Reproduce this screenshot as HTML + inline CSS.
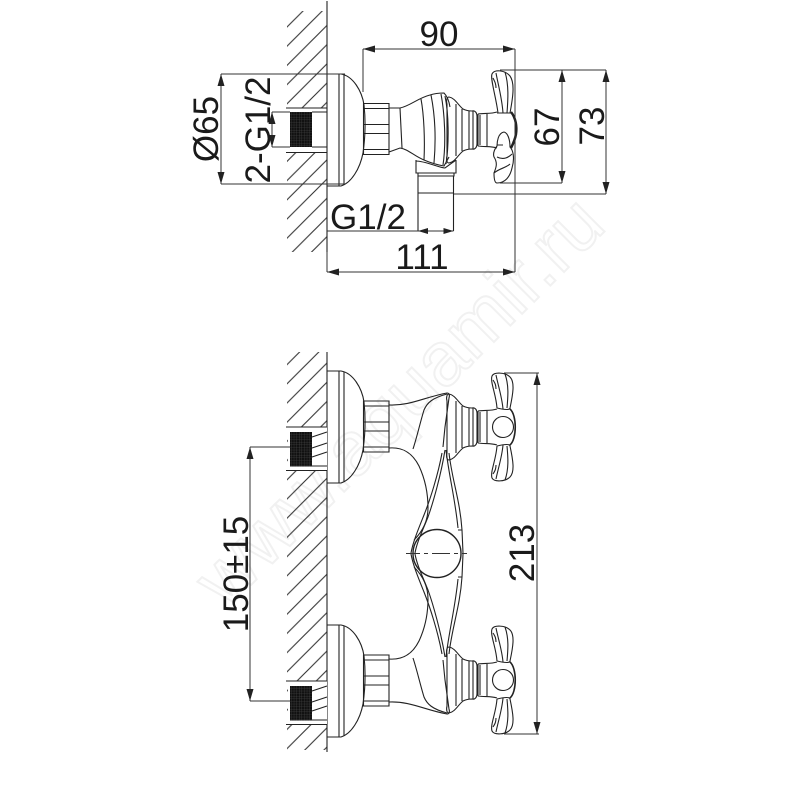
<!DOCTYPE html>
<html><head><meta charset="utf-8"><style>
html,body{margin:0;padding:0;background:#fff}
svg{display:block}
text{font-family:"Liberation Sans",sans-serif;font-size:35px;fill:#1a1a1a;text-anchor:middle}
.l{fill:none;stroke:#222;stroke-width:1.1}
.d{fill:none;stroke:#333;stroke-width:1}
.a{fill:#222;stroke:none}
</style></head><body>
<svg width="800" height="800" viewBox="0 0 800 800" xmlns="http://www.w3.org/2000/svg">
<defs>
<pattern id="h1" patternUnits="userSpaceOnUse" width="19.2" height="19.2" patternTransform="translate(6.8,0)"><path d="M-2,21.2L21.2,-2M-2,2L2,-2M17.2,21.2L21.2,17.2" stroke="#333" stroke-width="1.1" fill="none"/></pattern>
<pattern id="h2" patternUnits="userSpaceOnUse" width="19.2" height="19.2" patternTransform="translate(18,0)"><path d="M-2,21.2L21.2,-2M-2,2L2,-2M17.2,21.2L21.2,17.2" stroke="#333" stroke-width="1.1" fill="none"/></pattern>
<pattern id="g" patternUnits="userSpaceOnUse" width="2.6" height="2.6"><rect width="2.6" height="2.6" fill="#111"/><path d="M0,0H2.6M0,0V2.6" stroke="#555" stroke-width=".5"/></pattern>
<g id="ros" class="l">
 <path d="M327,371H341C353,373 362,388 364,402C366,420 365,436 363,450C360,466 351,480 341,483H327"/>
 <path d="M339,371V483M344,372V482"/>
</g>
<g id="blk">
 <rect x="288" y="427.500" width="39" height="43" fill="#fff"/>
 <path class="l" d="M286,427H327M286,470.500H327"/>
 <rect x="290" y="432" width="22" height="34.500" fill="url(#g)"/>
 <path class="l" d="M312,437L327,432M312,448L327,443M312,457L327,452M312,466H327"/>
</g>
<g id="nut" class="l">
 <path d="M363.500,401H389V452H363.500ZM363.500,406H389M363.500,422H389M363.500,431H389M363.500,447H389"/>
</g>
<g id="bell" class="l">
 <path d="M449,-33C455,-32 458,-25 463,-21C467,-19 470,-19 472,-19C475,-20 477,-17 477,-14V14C477,17 475,20 472,19C470,19 467,19 463,21C458,25 455,32 449,33C447,33 446,30 447,26V-26C446,-30 447,-33 449,-33Z"/>
 <path d="M456,-26V26M462,-21V21M469,-19V19M473,-19V19"/>
 <path d="M478,-16C485,-17 491,-16 497,-18M478,16C485,17 491,16 497,18M478,-16V16M480,-15V15M487,-16V16"/>
</g>
<g id="cross" class="l">
 <path d="M497,-19C496,-33 490,-45 492,-51C494,-55 505,-55 510,-50C515,-45 513,-33 510,-19"/>
 <path d="M503,-18C502,-30 498,-42 496,-52M505,-53C509,-42 508,-30 507,-19M493,-47C495,-44 496,-42 496,-38"/>
 <path d="M497,19C496,33 490,45 492,51C494,55 505,55 510,50C515,45 513,33 510,19"/>
 <path d="M503,18C502,30 498,42 496,52M505,53C509,42 508,30 507,19M493,47C495,44 496,42 496,38"/>
 <path d="M497,-19C505,-17 510,-17 510,-19M497,19C505,17 510,17 510,19"/>
 <circle cx="503" cy="0" r="10.500"/>
 <path d="M510,-18C517,-12 517,12 510,18" stroke-width="1.6"/>
</g>
<g id="body" class="l">
 <path d="M389,405C410,406 425,397 447,393C449,393 450,395 449,398L445,427L443,447"/>
 <path d="M447,394C432,398 427,403 424,410C420,423 417,437 413,449"/>
 <path d="M389,448C402,447 412,452 419,466C426,481 428,497 428,508C428,521 422,532 414,540"/>
 <path d="M442,453C438,475 430,500 424,515C418,530 413,542 411,553"/>
 <path d="M445,450C441,475 433,503 428,517C422,532 417,542 415,553"/>
 <path d="M449,453C452,480 460,500 462,530L463,553"/>
 <path d="M446,450C449,476 455,498 458,528M458,530H462"/>
</g>
</defs>

<g transform="translate(400,402) rotate(-45)">
 <text x="0" y="24" style="font-size:76px;fill:#fff;stroke:#f1f1f1;stroke-width:2">www.aquamir.ru</text>
</g>

<!-- TOP VIEW -->
<rect x="287" y="11" width="40" height="241" fill="url(#h1)"/>
<rect x="286" y="108" width="41" height="45" fill="#fff"/>
<path class="l" d="M327,1V252"/>
<path class="l" d="M286,108H327M286,152.500H327M312,112H327M312,147H327"/>
<rect x="290" y="112" width="22" height="35" fill="url(#g)"/>
<use href="#ros" y="-297"/>
<use href="#nut" y="-297.500"/>
<g class="l">
 <path d="M389,108L400,108C410,106 418,98 430,95C436,93 441,93 444,93C447,96 449,101 450,107"/>
 <path d="M389,152L400,148C408,149 414,156 424,160C431,163 438,165 444,166L449,157"/>
 <path d="M400,108L402,148M421,99C424,115 425,140 424,160M431,95C435,115 436,140 434,163M441,94C445,115 446,145 443,165M445,96C449,115 449,145 446,164"/>
 <path d="M416,160V173H456V160M416,161C425,161 440,168 445,168L456,160M418,173V176H454V173"/>
 <path d="M418,176V231M453.500,176V231M418,193H453.500"/>
</g>
<g transform="translate(0,130)"><use href="#bell"/>
 <g class="l">
  <path d="M498,-17C496,-33 490,-52 492,-56C494,-61 505,-60 510,-54C515,-47 513,-33 510,-17"/>
  <path d="M503,-17C502,-32 498,-46 496,-57M505,-58C509,-45 508,-30 507,-17M493,-52C495,-48 496,-46 496,-42"/>
  <path d="M497,-17H512M497,15H503"/>
  <path d="M511,-18C516,-12 517,-3 516,4C515,10 513,14 511,18" stroke-width="2.500"/>
  <path d="M504,2C498,3 497,12 497,16C494,20 493,24 494,27C498,33 496,38 494,43C494,50 495,53 497,53C505,53 510,47 512,38C515,28 513,20 510,17C510,10 508,3 504,2Z"/>
  <path d="M497,27C503,30 508,28 512,24M494,43C500,38 506,38 510,34"/>
 </g>
</g>
<g class="d">
 <path d="M363,49V92M515,49V272M221,74H345M221,184H345M272,112H290M272,147H290M327,231H453.500M327,252V272M327,272H515"/>
 <path d="M221,74V184M272,112V147M363,49H515M562,70V183M606,70V194"/>
 <path d="M500,70H606M500,183H562M454,194H606"/>
</g>
<g class="a">
 <path d="M221,74l-3.500,12h7zM221,184l-3.500,-12h7zM272,112l-3.500,12h7zM272,147l-3.500,-12h7z"/>
 <path d="M363,49l12,-3.500v7zM515,49l-12,-3.500v7zM327,272l12,-3.500v7zM515,272l-12,-3.500v7z"/>
 <path d="M418,231l10,-3v6zM453.500,231l-10,-3v6z"/>
 <path d="M562,70l-3.500,12h7zM562,183l-3.500,-12h7zM606,70l-3.500,12h7zM606,194l-3.500,-12h7z"/>
</g>
<text x="439" y="46">90</text>
<text x="422" y="269">111</text>
<text x="368" y="229">G1/2</text>
<text transform="translate(218,129) rotate(-90)">Ø65</text>
<text transform="translate(270,130) rotate(-90)">2-G1/2</text>
<text transform="translate(559,127) rotate(-90)">67</text>
<text transform="translate(604,126) rotate(-90)">73</text>

<!-- FRONT VIEW -->
<rect x="287" y="352" width="40" height="398" fill="url(#h2)"/>
<path class="l" d="M327,352V752"/>
<use href="#blk"/>
<use href="#blk" y="254"/>
<use href="#ros"/>
<use href="#ros" y="254"/>
<use href="#nut"/>
<use href="#nut" y="254"/>
<use href="#body"/>
<use href="#body" transform="matrix(1 0 0 -1 0 1107)"/>
<g transform="translate(0,427)"><use href="#bell"/><use href="#cross"/></g>
<g transform="translate(0,680)"><use href="#bell"/><use href="#cross"/></g>
<circle class="l" cx="437" cy="553.500" r="24" style="stroke-width:1.4"/>
<path class="d" d="M406,553.500H420M424,553.500H428M432,553.500H450M454,553.500H458M462,553.500H467"/>
<g class="d">
 <path d="M250,447H290M250,701H290M250,447V701"/>
 <path d="M504,373H539M504,734H539M537,373V734"/>
</g>
<g class="a">
 <path d="M250,447l-3.500,12h7zM250,701l-3.500,-12h7zM537,373l-3.500,12h7zM537,734l-3.500,-12h7z"/>
</g>
<text transform="translate(248,574) rotate(-90)">150±15</text>
<text transform="translate(534,553) rotate(-90)">213</text>
</svg>
</body></html>
